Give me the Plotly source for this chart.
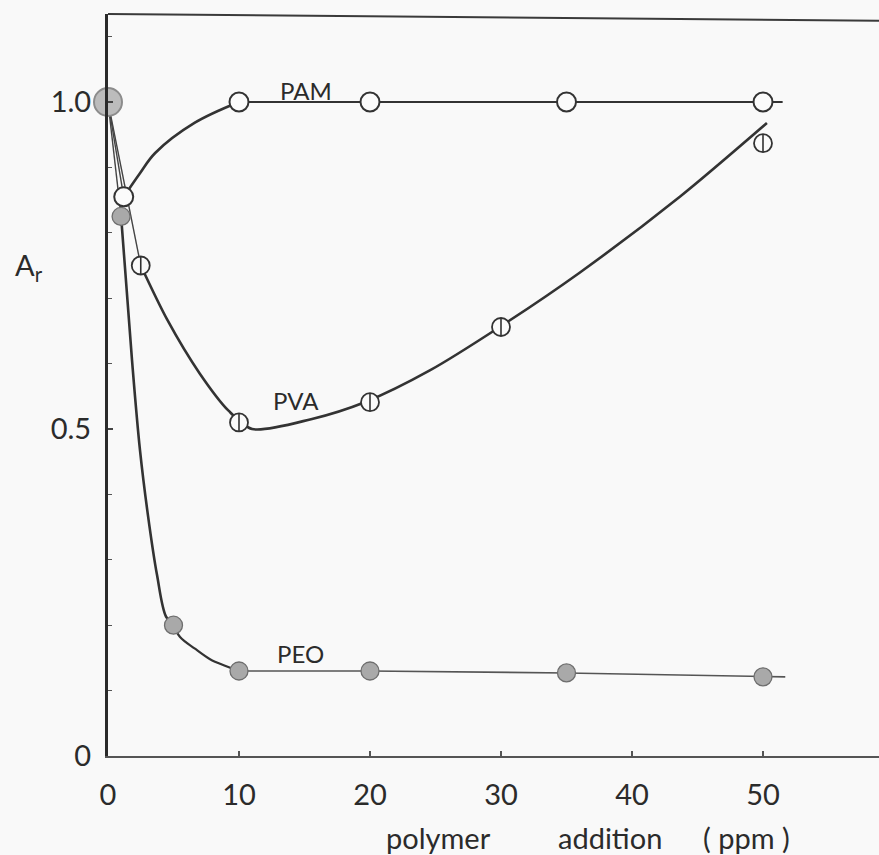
import plotly.graph_objects as go

# Shared starting point (no polymer added)
start_x = [0]
start_y = [1.0]

# Measured points, A_r versus polymer addition (ppm)
pam_x = [1.2, 10, 20, 35, 50]
pam_y = [0.855, 1.0, 1.0, 1.0, 1.0]

pva_x = [2.5, 10, 20, 30, 50]
pva_y = [0.75, 0.51, 0.541, 0.656, 0.937]

peo_x = [1.0, 5, 10, 20, 35, 50]
peo_y = [0.825, 0.2, 0.13, 0.13, 0.127, 0.121]

# Hand-drawn trend curves through the measurements
pam_rise_x = [1.2, 2.4, 3.6, 6.6, 10]
pam_rise_y = [0.855, 0.89, 0.922, 0.968, 1.0]
pam_flat_x = [10, 20, 35, 51.5]
pam_flat_y = [1.0, 1.0, 1.0, 1.0]

pva_curve_x = [2.5, 4.5, 7.0, 9.2, 11.0, 15.5, 19.6, 24.6, 29.9, 36.0, 43.7, 50.3]
pva_curve_y = [0.75, 0.668, 0.585, 0.528, 0.5, 0.515, 0.541, 0.59, 0.656, 0.739, 0.856, 0.968]

peo_drop_x = [1.0, 1.83, 2.44, 3.05, 3.74, 4.43, 5.0]
peo_drop_y = [0.825, 0.606, 0.468, 0.368, 0.277, 0.213, 0.2]
peo_bend_x = [5.0, 5.5, 6.64, 7.79, 8.93, 10.0]
peo_bend_y = [0.2, 0.182, 0.164, 0.148, 0.138, 0.13]
peo_flat_x = [10, 20, 35, 50, 51.7]
peo_flat_y = [0.13, 0.13, 0.127, 0.121, 0.121]

# Axis ticks
x_ticks = [0, 10, 20, 30, 40, 50]
x_tick_text = ["0", "10", "20", "30", "40", "50"]
y_ticks = [0, 0.5, 1.0]
y_tick_text = ["0", "0.5", "1.0"]

# Series labels drawn next to the curves
series_names = ["PAM", "PVA", "PEO"]
label_x = [15.1, 14.35, 14.7]
label_y = [1.018, 0.543, 0.156]

INK = "#333333"
TEXT = "#2b2b2b"
FONT = "Lato"
W, H = 879, 855
ML, MR, MT, MB = 108, 0, 14, 99
PX_PER_X = 13.1
PX_PER_Y = 654.0
x_max = (W - ML - MR) / PX_PER_X
y_max = (H - MT - MB) / PX_PER_Y
PW, PH = W - ML - MR, H - MT - MB

fig = go.Figure()


def add_line(xs, ys, width, color=INK, shape="spline", smoothing=1.0):
    line = dict(color=color, width=width, shape=shape)
    if shape == "spline":
        line["smoothing"] = smoothing
    fig.add_trace(go.Scatter(x=xs, y=ys, mode="lines", line=line, cliponaxis=False,
                             showlegend=False, hoverinfo="skip"))


# Thin lead-in segments from the common starting point
for xs, ys in [(pam_x, pam_y), (peo_x, peo_y), (pva_x, pva_y)]:
    add_line([start_x[0], xs[0]], [start_y[0], ys[0]], 1.4, "#444444", shape="linear")

# Trend curves
add_line(pam_rise_x, pam_rise_y, 2.6)
add_line(pam_flat_x, pam_flat_y, 2.2, shape="linear")
add_line(pva_curve_x, pva_curve_y, 2.6, smoothing=0.8)
add_line(peo_drop_x, peo_drop_y, 2.6)
add_line(peo_bend_x, peo_bend_y, 2.2)
add_line(peo_flat_x, peo_flat_y, 1.6, "#555555", shape="linear")

# Markers
fig.add_trace(go.Scatter(x=pam_x, y=pam_y, mode="markers", name="PAM",
                         marker=dict(symbol="circle", size=19, color="#fbfbfb",
                                     line=dict(color=INK, width=2)),
                         cliponaxis=False, showlegend=False))
fig.add_trace(go.Scatter(x=pva_x, y=pva_y, mode="markers", name="PVA",
                         marker=dict(symbol="circle", size=18, color="#fbfbfb",
                                     line=dict(color=INK, width=1.8)),
                         cliponaxis=False, showlegend=False))
fig.add_trace(go.Scatter(x=pva_x, y=pva_y, mode="markers", name="PVA",
                         marker=dict(symbol="line-ns", size=13,
                                     line=dict(color=INK, width=1.6)),
                         cliponaxis=False, showlegend=False, hoverinfo="skip"))
fig.add_trace(go.Scatter(x=peo_x, y=peo_y, mode="markers", name="PEO",
                         marker=dict(symbol="circle", size=18, color="#a9a9a9",
                                     line=dict(color="#6e6e6e", width=1.3)),
                         cliponaxis=False, showlegend=False))
fig.add_trace(go.Scatter(x=start_x, y=start_y, mode="markers", name="start",
                         marker=dict(symbol="circle", size=28, color="#bcbcbc",
                                     line=dict(color="#8c8c8c", width=2)),
                         cliponaxis=False, showlegend=False))

# Series labels
for name, lx, ly in zip(series_names, label_x, label_y):
    fig.add_annotation(x=lx, y=ly, text=name, showarrow=False,
                       xanchor="center", yanchor="middle",
                       font=dict(family=FONT, size=24, color=TEXT))

# Axis titles
fig.add_annotation(xref="paper", yref="paper", x=(29 - ML) / PW, y=(H - MB - 266) / PH,
                   text="A<sub>r</sub>", showarrow=False, xanchor="center", yanchor="middle",
                   font=dict(family=FONT, size=29, color=TEXT))
for word, cx in [("polymer", 438), ("addition", 610), ("( ppm )", 746)]:
    fig.add_annotation(xref="paper", yref="paper", x=(cx - ML) / PW,
                       y=-(837 - (H - MB)) / PH,
                       text=word, showarrow=False, xanchor="center", yanchor="middle",
                       font=dict(family=FONT, size=29, color=TEXT))

# Top frame line
fig.add_shape(type="line", xref="paper", yref="paper", x0=0, x1=1, y0=1.0, y1=0.991,
              line=dict(color="#3a3a3a", width=2))

fig.update_xaxes(range=[0, x_max], tickvals=x_ticks, ticktext=x_tick_text,
                 showgrid=False, zeroline=False, showline=True, linecolor="#555555",
                 linewidth=1.5, ticks="inside", ticklen=5, tickwidth=1.5, tickcolor="#555555",
                 ticklabelstandoff=12,
                 tickfont=dict(family=FONT, size=29, color=TEXT))
fig.update_yaxes(range=[0, y_max], tickvals=y_ticks, ticktext=y_tick_text,
                 showgrid=False, zeroline=False, showline=True, linecolor="#2a2a2a",
                 linewidth=3, ticks="inside", ticklen=5, tickwidth=1.5, tickcolor="#444444",
                 minor=dict(dtick=0.1, ticks="inside", ticklen=4, tickwidth=1.3,
                            tickcolor="#555555", showgrid=False),
                 ticklabelstandoff=8,
                 tickfont=dict(family=FONT, size=29, color=TEXT))

fig.update_layout(width=W, height=H, margin=dict(l=ML, r=MR, t=MT, b=MB, pad=0),
                  paper_bgcolor="#f9f9f9", plot_bgcolor="#f9f9f9",
                  font=dict(family=FONT, color=TEXT))

fig.write_html("out.html")
